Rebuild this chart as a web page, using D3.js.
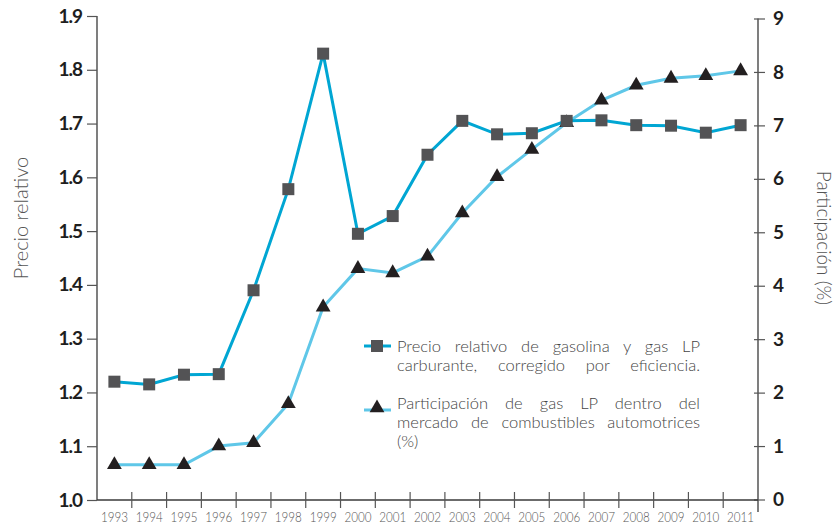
<!DOCTYPE html>
<html>
<head>
<meta charset="utf-8">
<script src="https://cdn.jsdelivr.net/npm/d3@7"></script>
<style>
  body { margin: 0; background: #fff; }
  svg { display: block; }
</style>
</head>
<body>
<div id="chart-area"></div>
<script>
// data
var years = ["1993","1994","1995","1996","1997","1998","1999","2000","2001","2002",
             "2003","2004","2005","2006","2007","2008","2009","2010","2011"];
var precio = [1.22,1.215,1.233,1.234,1.39,1.578,1.83,1.495,1.528,1.642,
              1.705,1.68,1.682,1.705,1.706,1.697,1.696,1.683,1.697];
var participacion = [0.65,0.65,0.65,1.0,1.06,1.79,3.6,4.32,4.24,4.55,
                     5.36,6.04,6.55,7.05,7.47,7.75,7.88,7.93,8.02];
var leftTicks = [1.0,1.1,1.2,1.3,1.4,1.5,1.6,1.7,1.8,1.9];
var rightTicks = [0,1,2,3,4,5,6,7,8,9];
var legendPrecio = ["Precio relativo de gasolina y gas LP", "carburante, corregido por eficiencia."];
var legendPart = ["Participación de gas LP dentro del", "mercado de combustibles automotrices", "(%)"];

var width = 838, height = 526;
var svg = d3.select("#chart-area").append("svg")
    .attr("width", width).attr("height", height);

var x = d3.scaleBand().domain(years).range([97, 758]);
var yL = d3.scaleLinear().domain([1.0, 1.9]).range([500, 16]);
var yR = d3.scaleLinear().domain([0, 9]).range([499.5, 18.5]);

var axisColor = "#3a3a3a";
var labelFont = "Lato, 'Open Sans', sans-serif";

// left axis
var leftAxis = svg.append("g").attr("transform", "translate(97,0)")
    .call(d3.axisLeft(yL).tickValues(leftTicks).tickSize(10).tickPadding(5).tickFormat(d3.format(".1f")));
leftAxis.select(".domain").attr("d", "M0," + yL(1.9) + "V" + yL(1.0)).attr("stroke", axisColor).attr("stroke-width", 1.3);
leftAxis.selectAll(".tick line").attr("stroke", "#555").attr("stroke-width", 1.2);
leftAxis.selectAll(".tick text")
    .style("font-family", labelFont).style("font-weight", "bold").style("font-size", "19px")
    .style("letter-spacing", "-1px").attr("fill", "#1e1e1e");

// right axis
var rightAxis = svg.append("g").attr("transform", "translate(758,0)")
    .call(d3.axisRight(yR).tickValues(rightTicks).tickSize(7).tickPadding(8));
rightAxis.select(".domain").attr("d", "M0," + yR(9) + "V" + 512).attr("stroke", axisColor).attr("stroke-width", 1.3);
rightAxis.selectAll(".tick line").attr("x1", -4).attr("stroke", "#555").attr("stroke-width", 1.2);
rightAxis.selectAll(".tick text")
    .style("font-family", labelFont).style("font-weight", "bold").style("font-size", "19px")
    .attr("fill", "#1e1e1e");

// bottom axis: line, ticks at the band edges, labels at band centers
var xAxis = svg.append("g").attr("transform", "translate(0,500)")
    .call(d3.axisBottom(x).tickSize(0).tickPadding(12));
xAxis.select(".domain").attr("d", "M97,0H758").attr("stroke", axisColor).attr("stroke-width", 1.3);
xAxis.selectAll(".tick text")
    .style("font-family", labelFont).style("font-weight", "300").style("font-size", "13.5px")
    .attr("fill", "#555")
    .attr("textLength", 27).attr("lengthAdjust", "spacingAndGlyphs");
xAxis.selectAll(".edge").data(years.slice(1)).enter().append("line")
    .attr("class", "edge")
    .attr("x1", function(d){ return x(d); }).attr("x2", function(d){ return x(d); })
    .attr("y1", -8).attr("y2", 8)
    .attr("stroke", "#555").attr("stroke-width", 1.2);

// axis titles
svg.append("text")
    .attr("transform", "translate(28,218) rotate(-90)")
    .attr("text-anchor", "middle")
    .style("font-family", labelFont).style("font-weight", "300").style("font-size", "20px")
    .attr("fill", "#555").text("Precio relativo");
svg.append("text")
    .attr("transform", "translate(817,238) rotate(90)")
    .attr("text-anchor", "middle")
    .style("font-family", labelFont).style("font-weight", "300").style("font-size", "19px")
    .attr("fill", "#555").text("Participación (%)");

// lines
var cx = function(i){ return x(years[i]) + x.bandwidth()/2; };
var linePart = d3.line().x(function(d,i){ return cx(i); }).y(function(d){ return yR(d); });
var linePrecio = d3.line().x(function(d,i){ return cx(i); }).y(function(d){ return yL(d); });

svg.append("path").datum(participacion).attr("d", linePart)
    .attr("fill", "none").attr("stroke", "#5fc7e8").attr("stroke-width", 3);
svg.append("path").datum(precio).attr("d", linePrecio)
    .attr("fill", "none").attr("stroke", "#00a6d3").attr("stroke-width", 3);

var tri = d3.symbol().type(d3.symbolTriangle).size(95);
svg.selectAll(".tri").data(participacion).enter().append("path")
    .attr("class", "tri").attr("d", tri)
    .attr("transform", function(d,i){ return "translate(" + cx(i) + "," + yR(d) + ")"; })
    .attr("fill", "#231f20");

svg.selectAll(".sq").data(precio).enter().append("rect")
    .attr("class", "sq")
    .attr("x", function(d,i){ return cx(i) - 6; })
    .attr("y", function(d){ return yL(d) - 6; })
    .attr("width", 12).attr("height", 12)
    .attr("fill", "#535355");

// legend
var legX = 397, legRight = 700;
function legendBlock(lines, y0, justify){
    var texts = svg.selectAll(null).data(lines).enter().append("text")
        .attr("x", legX).attr("y", function(d,i){ return y0 + i*19; })
        .style("font-family", labelFont).style("font-weight", "300").style("font-size", "16.5px")
        .attr("fill", "#444").text(function(d){ return d; });
    texts.each(function(d,i){
        if (!justify[i]) return;
        var w = this.getComputedTextLength();
        var gaps = d.split(" ").length - 1;
        if (gaps > 0) d3.select(this).attr("word-spacing", ((legRight - legX) - w) / gaps);
    });
}
legendBlock(legendPrecio, 352, [true, true]);
legendBlock(legendPart, 409, [true, true, false]);

svg.append("line").attr("x1", 364).attr("x2", 391).attr("y1", 346).attr("y2", 346)
    .attr("stroke", "#00a6d3").attr("stroke-width", 3);
svg.append("rect").attr("x", 371).attr("y", 340).attr("width", 12).attr("height", 12).attr("fill", "#535355");
svg.append("line").attr("x1", 364).attr("x2", 391).attr("y1", 410).attr("y2", 410)
    .attr("stroke", "#5fc7e8").attr("stroke-width", 3);
svg.append("path").attr("d", tri).attr("transform", "translate(377,408)").attr("fill", "#231f20");
</script>
</body>
</html>
